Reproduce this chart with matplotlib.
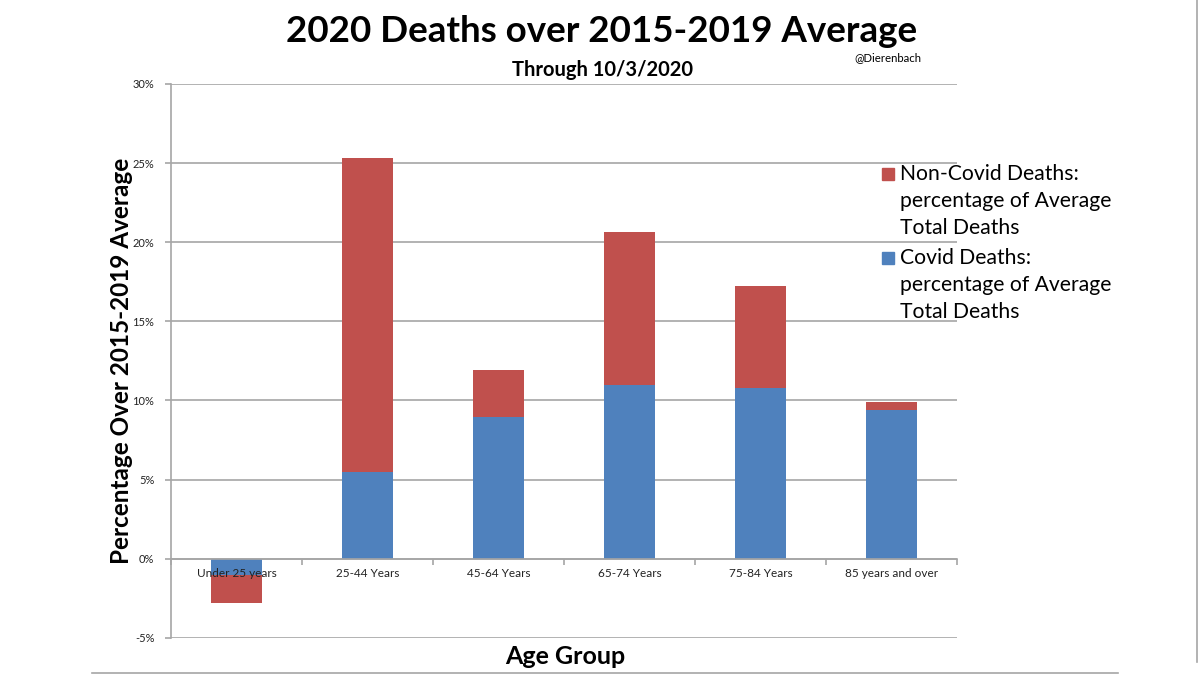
import matplotlib
matplotlib.use("Agg")
import matplotlib.pyplot as plt
from matplotlib.lines import Line2D
from matplotlib.patches import Rectangle
from matplotlib.ticker import FuncFormatter, FixedLocator
import numpy as np

categories = ["Under 25 years", "25-44 Years", "45-64 Years", "65-74 Years", "75-84 Years", "85 years and over"]
covid = [-1.05, 5.5, 8.96, 10.98, 10.77, 9.4]
non_covid = [-1.75, 19.8, 2.97, 9.65, 6.45, 0.5]
yticks = [-5, 0, 5, 10, 15, 20, 25, 30]
legend_labels = ["Non-Covid Deaths:\npercentage of Average\nTotal Deaths",
                 "Covid Deaths:\npercentage of Average\nTotal Deaths"]

RED = "#C0504D"
BLUE = "#4F81BD"
GRID = "#A6A6A6"

plt.rcParams['font.family'] = ['Lato', 'DejaVu Sans']

fig = plt.figure(figsize=(12, 6.75), dpi=100)
ax = fig.add_axes([171/1200, 1-637.7/675, (957-171)/1200, (637.7-84)/675])

x = np.arange(len(categories))
w = 0.39
for yt in yticks:
    ax.axhline(yt, color=GRID, linewidth=1.2, zorder=0.5)
ax.bar(x, covid, w, color=BLUE, zorder=2)
ax.bar(x, non_covid, w, bottom=covid, color=RED, zorder=2)

ax.set_xlim(-0.5, len(categories) - 0.5)
ax.set_ylim(-5, 30)
ax.yaxis.set_major_locator(FixedLocator(yticks))
ax.yaxis.set_major_formatter(FuncFormatter(lambda v, p: f"{int(v)}%"))

for s in ['top', 'right']:
    ax.spines[s].set_visible(False)
ax.spines['left'].set_color(GRID)
ax.spines['left'].set_linewidth(1.2)
ax.spines['bottom'].set_position(('data', 0))
ax.spines['bottom'].set_color(GRID)
ax.spines['bottom'].set_linewidth(1.2)

ax.set_xticks(x)
ax.set_xticklabels(categories, fontsize=8.5, color="#222222")
ax.tick_params(axis='x', which='major', length=0, pad=7)
ax.set_xticks(np.arange(-0.5, len(categories)), minor=True)
ax.tick_params(axis='x', which='minor', length=4, color=GRID, width=1.2, direction='out')
ax.tick_params(axis='y', length=4, color=GRID, width=1.2, labelsize=8, pad=8, labelcolor="#222222")
ax.xaxis.set_zorder(4)

ax.set_ylabel("Percentage Over 2015-2019 Average", fontsize=17.5, fontweight='bold')
ax.yaxis.set_label_coords((133-171)/786, (675-361-37.3)/553.7)
fig.text(565/1200, 1-657/675, "Age Group", fontsize=18, fontweight='bold', ha='center', va='center')

fig.text(602/1200, 1-32/675, "2020 Deaths over 2015-2019 Average", fontsize=26.5, fontweight='bold', ha='center', va='center')
fig.text(602/1200, 1-70/675, "Through 10/3/2020", fontsize=14.5, fontweight='bold', ha='center', va='center')
fig.text(888/1200, 1-58/675, "@Dierenbach", fontsize=8.2, ha='center', va='center')

# legend drawn in figure pixels
line_h = 27
for i, (lab, col) in enumerate(zip(legend_labels, [RED, BLUE])):
    y0 = 174 + i * 84
    fig.add_artist(Rectangle((882/1200, 1-(y0+6)/675), 12/1200, 12/675, color=col,
                             transform=fig.transFigure))
    for j, line in enumerate(lab.split("\n")):
        fig.text(900/1200, 1-(y0 + j*line_h)/675, line, fontsize=15.2, ha='left', va='center')

fig.add_artist(Line2D([92/1200, 1118/1200], [1-673/675, 1-673/675], color=GRID, linewidth=1.2))
fig.add_artist(Line2D([1197/1200, 1197/1200], [1-662/675, 1.0], color=GRID, linewidth=1.2))

fig.savefig("out.png", dpi=100)
